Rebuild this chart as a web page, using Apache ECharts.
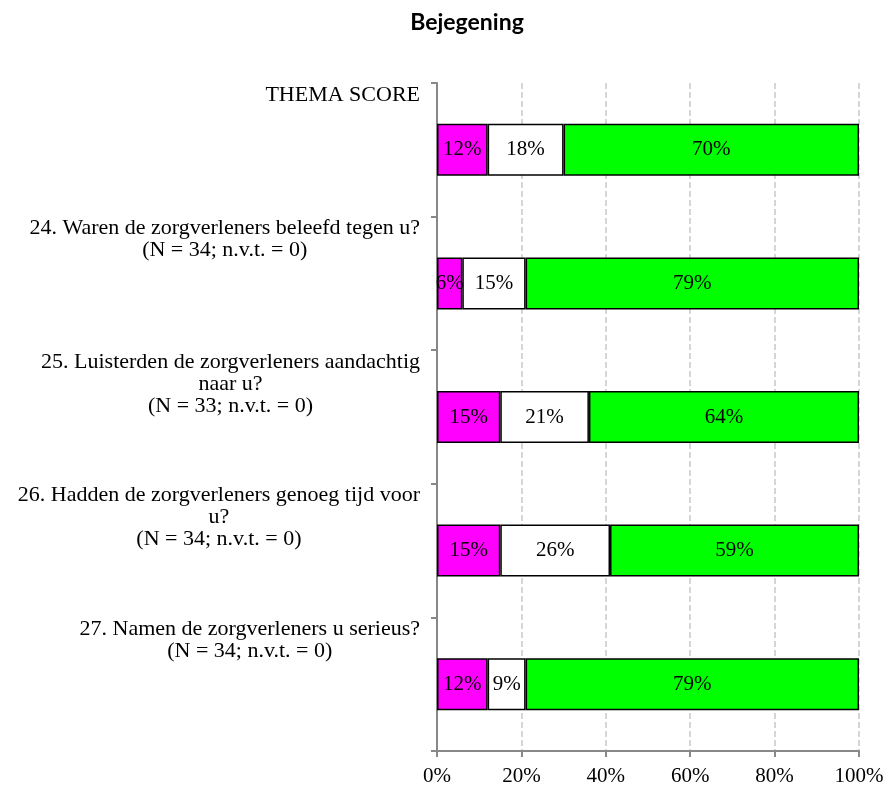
<!DOCTYPE html>
<html>
<head>
<meta charset="utf-8">
<script src="https://cdn.jsdelivr.net/npm/echarts@6/dist/echarts.min.js"></script>
<style>html,body{margin:0;padding:0;background:#fff}#c{width:892px;height:789px}</style>
</head>
<body>
<div id="c"></div>
<script>
var categories = [
  'THEMA SCORE',
  '24. Waren de zorgverleners beleefd tegen u?\n(N = 34; n.v.t. = 0)',
  '25. Luisterden de zorgverleners aandachtig\nnaar u?\n(N = 33; n.v.t. = 0)',
  '26. Hadden de zorgverleners genoeg tijd voor\nu?\n(N = 34; n.v.t. = 0)',
  '27. Namen de zorgverleners u serieus?\n(N = 34; n.v.t. = 0)'
];
var negValues = [12, 6, 15, 15, 12];
var midValues = [18, 15, 21, 26, 9];
var posValues = [70, 79, 64, 59, 79];
var xTicks = [0, 20, 40, 60, 80, 100];
var titleText = 'Bejegening';

var serif = '"Liberation Serif", serif';
var chart = echarts.init(document.getElementById('c'));
function seg(name, data, color) {
  return {
    name: name, type: 'bar', stack: 'all', data: data, barWidth: 52,
    itemStyle: { color: color, borderColor: '#000', borderWidth: 1.5 },
    label: { show: true, position: 'inside', color: '#000', fontFamily: serif, fontSize: 21,
      formatter: function (p) { return p.value + '%'; } },
    emphasis: { disabled: true }, animation: false
  };
}
chart.setOption({
  animation: false,
  title: { text: titleText, left: 462, top: 6, textAlign: 'center',
    textStyle: { fontFamily: 'Lato, sans-serif', fontWeight: 'bold', fontSize: 23, color: '#000' } },
  grid: { left: 437, right: 33, top: 83, bottom: 38, containLabel: false },
  xAxis: {
    type: 'value', min: 0, max: 100, interval: 20,
    axisLine: { show: true, lineStyle: { color: '#888', width: 2 } },
    axisTick: { show: true, length: 6, lineStyle: { color: '#888', width: 2 } },
    splitLine: { show: true, lineStyle: { color: '#c8c8c8', type: 'dashed', width: 1.5 } },
    axisLabel: { color: '#000', fontFamily: serif, fontSize: 21, margin: 15,
      formatter: function (v) { return xTicks.indexOf(v) >= 0 ? v + '%' : ''; } }
  },
  yAxis: {
    type: 'category', data: categories, inverse: true,
    axisLine: { show: true, lineStyle: { color: '#888', width: 2 } },
    axisTick: { show: true, length: 6, lineStyle: { color: '#888', width: 2 } },
    axisLabel: {
      margin: 17, align: 'right', verticalAlign: 'bottom',
      formatter: function (v) {
        var lines = v.split('\n');
        while (lines.length < 3) lines.push(' ');
        return lines.map(function (l) { return '{c|' + l + '}'; }).join('\n');
      },
      rich: { c: { align: 'center', fontFamily: serif, fontSize: 22, lineHeight: 22, color: '#000' } }
    }
  },
  series: [
    seg('neg', negValues, '#ff00ff'),
    seg('mid', midValues, '#ffffff'),
    seg('pos', posValues, '#00ff00')
  ]
});
</script>
</body>
</html>
